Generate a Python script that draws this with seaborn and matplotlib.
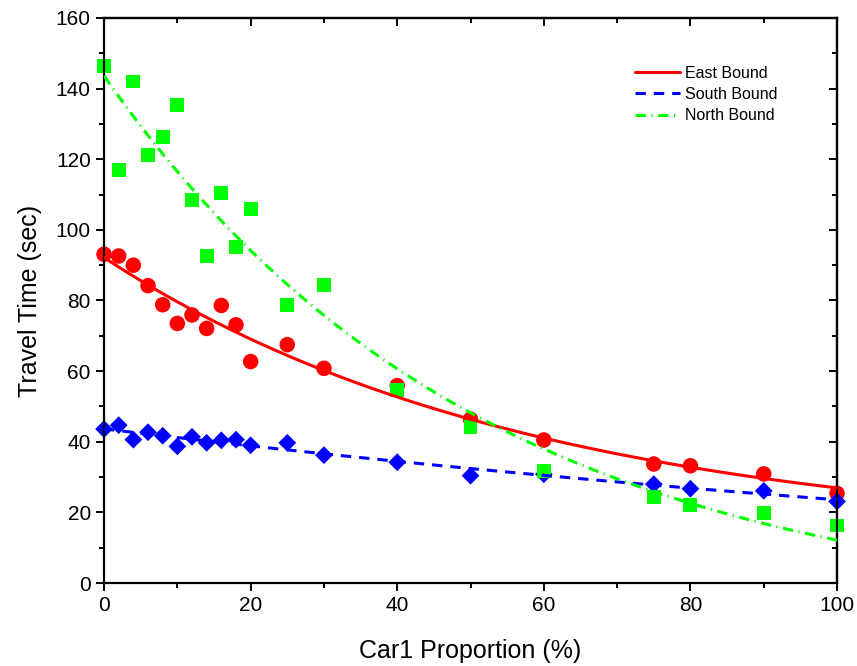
import numpy as np
import pandas as pd
import matplotlib
matplotlib.use("Agg")
import matplotlib.pyplot as plt
from matplotlib.ticker import MultipleLocator
import seaborn as sns

# ---- data ----
x_vals = [0, 2, 4, 6, 8, 10, 12, 14, 16, 18, 20, 25, 30, 40, 50, 60, 75, 80, 90, 100]
east = [93.1, 92.6, 90.0, 84.2, 78.8, 73.5, 75.9, 72.1, 78.6, 73.1, 62.7, 67.5, 60.8,
        55.9, 46.4, 40.5, 33.7, 33.2, 30.9, 25.4]
south = [43.6, 44.7, 40.6, 42.7, 41.7, 38.7, 41.4, 39.7, 40.4, 40.6, 39.0, 39.7, 36.2,
         34.2, 30.4, 30.8, 28.0, 26.7, 26.1, 23.1]
north = [146.4, 117.0, 142.0, 121.1, 126.2, 135.4, 108.4, 92.7, 110.4, 95.2, 105.9, 78.7,
         84.4, 54.7, 44.1, 31.6, 24.4, 22.0, 19.8, 16.3]
series_names = ["East Bound", "South Bound", "North Bound"]

sns.set_style("white")
plt.rcParams["font.family"] = ["Liberation Sans", "DejaVu Sans"]
plt.rcParams["text.color"] = "black"
plt.rcParams["axes.labelcolor"] = "black"
plt.rcParams["xtick.color"] = "black"
plt.rcParams["ytick.color"] = "black"

df = pd.DataFrame({"x": x_vals * 3,
                   "y": east + south + north,
                   "series": [series_names[0]] * len(x_vals) + [series_names[1]] * len(x_vals)
                   + [series_names[2]] * len(x_vals)})


def expdec_fit(x, y):
    """Least-squares fit y = A*exp(-x/t) + y0 (grid over t, linear solve for A, y0)."""
    x = np.asarray(x, float)
    y = np.asarray(y, float)
    best = None
    for t in np.geomspace(2, 5000, 4000):
        M = np.column_stack([np.exp(-x / t), np.ones_like(x)])
        coef, *_ = np.linalg.lstsq(M, y, rcond=None)
        r = np.sum((M @ coef - y) ** 2)
        if best is None or r < best[0]:
            best = (r, t, coef)
    _, t, (A, y0) = best
    return lambda xx: A * np.exp(-np.asarray(xx) / t) + y0


fig = plt.figure(figsize=(8.57, 6.66), dpi=100)
ax = fig.add_axes([0.1214, 0.1246, 0.8553, 0.8484])

colors = {"East Bound": "#FF0000", "South Bound": "#0000FF", "North Bound": "#00FF00"}
markers = {"East Bound": "o", "South Bound": "D", "North Bound": "s"}
sizes = {"East Bound": 125, "South Bound": 82, "North Bound": 100}
styles = {"East Bound": "-", "South Bound": (0, (3.4, 2.6)),
          "North Bound": (0, (3.4, 1.8, 0.4, 1.8))}
lws = {"East Bound": 2.2, "South Bound": 2.2, "North Bound": 2.2}

for name in series_names:
    sub = df[df["series"] == name]
    sns.scatterplot(data=sub, x="x", y="y", marker=markers[name], s=sizes[name],
                    color=colors[name], edgecolor="none", linewidth=0, ax=ax,
                    legend=False, zorder=2, clip_on=False)

xfit = np.linspace(0, 100, 300)
handles = []
for name in series_names:
    sub = df[df["series"] == name]
    f = expdec_fit(sub["x"], sub["y"])
    fit_df = pd.DataFrame({"x": xfit, "y": f(xfit)})
    sns.lineplot(data=fit_df, x="x", y="y", color=colors[name], linewidth=lws[name],
                 ax=ax, zorder=3)
    ln = ax.lines[-1]
    ln.set_linestyle(styles[name])
    ln.set_label(name)
    handles.append(ln)

ax.set_xlim(0, 100)
ax.set_ylim(0, 160)
ax.xaxis.set_major_locator(MultipleLocator(20))
ax.xaxis.set_minor_locator(MultipleLocator(10))
ax.yaxis.set_major_locator(MultipleLocator(20))
ax.yaxis.set_minor_locator(MultipleLocator(10))

for sp in ax.spines.values():
    sp.set_linewidth(1.6)
    sp.set_color("black")
    sp.set_visible(True)

ax.tick_params(which="both", direction="out", bottom=True, left=True, top=False,
               right=False, width=1.4, colors="black", labelsize=15)
ax.tick_params(which="major", length=6)
ax.tick_params(which="minor", length=3.5)

secx = ax.secondary_xaxis("top")
secx.xaxis.set_major_locator(MultipleLocator(20))
secx.xaxis.set_minor_locator(MultipleLocator(10))
secx.tick_params(which="both", direction="in", labeltop=False, width=1.4)
secx.tick_params(which="major", length=6)
secx.tick_params(which="minor", length=3.5)
secx.spines["top"].set_linewidth(1.6)

secy = ax.secondary_yaxis("right")
secy.yaxis.set_major_locator(MultipleLocator(20))
secy.yaxis.set_minor_locator(MultipleLocator(10))
secy.tick_params(which="both", direction="in", labelright=False, width=1.4)
secy.tick_params(which="major", length=6)
secy.tick_params(which="minor", length=3.5)
secy.spines["right"].set_linewidth(1.6)

ax.set_xlabel("Car1 Proportion (%)", fontsize=18, labelpad=17, color="black")
ax.set_ylabel("Travel Time (sec)", fontsize=18, labelpad=10, color="black")

leg = ax.legend(handles=handles, labels=series_names, loc="upper left",
                bbox_to_anchor=(0.716, 0.927), frameon=False, fontsize=11.5,
                handlelength=2.8, handletextpad=0.3, labelspacing=0.4, borderaxespad=0)
for t in leg.get_texts():
    t.set_color("black")

fig.savefig("out.png", dpi=100)
